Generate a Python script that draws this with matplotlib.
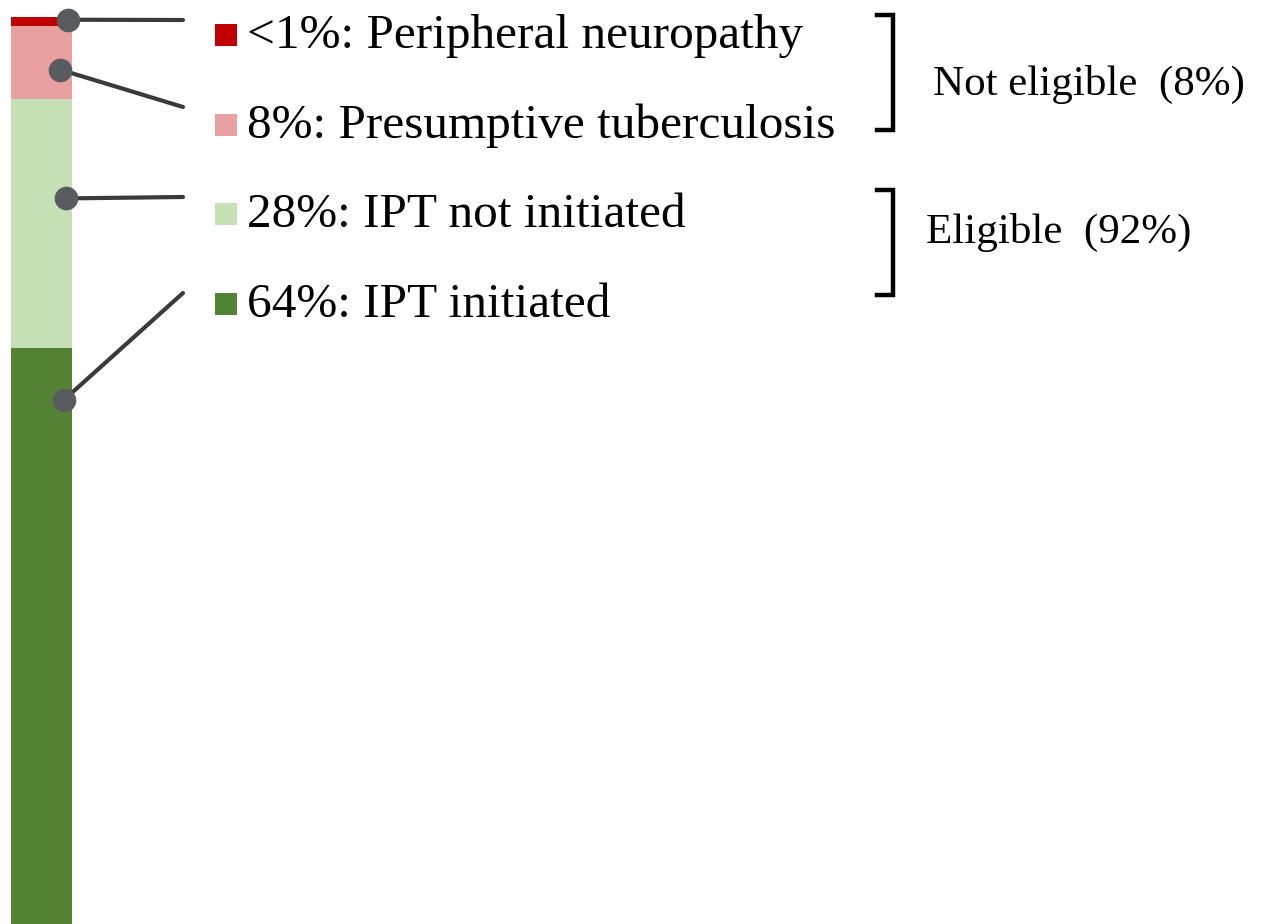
import matplotlib
matplotlib.use("Agg")
import matplotlib.pyplot as plt
from matplotlib.patches import Rectangle

# stacked bar, bottom to top
categories = ["IPT initiated", "IPT not initiated", "Presumptive tuberculosis", "Peripheral neuropathy"]
values = [63.5, 27.5, 8.0, 1.0]
labels = ["64%: IPT initiated", "28%: IPT not initiated", "8%: Presumptive tuberculosis", "<1%: Peripheral neuropathy"]
colors = ["#548235", "#c5e0b4", "#e8a0a0", "#c00000"]

groups = ["Not eligible  (8%)", "Eligible  (92%)"]

W, H = 1272, 924
TOP_PX = 17
ytop = 100 * H / (H - TOP_PX)


def py(px):
    """pixel row (from top) -> data y"""
    return (H - px) / H * ytop


fig = plt.figure(figsize=(W / 100, H / 100), dpi=100)
ax = fig.add_axes([0, 0, 1, 1])
ax.set_xlim(0, W)
ax.set_ylim(0, ytop)
ax.axis("off")

bottom = 0
bottoms = []
for v, c in zip(values, colors):
    ax.bar(41.5, v, width=61, bottom=bottom, color=c, edgecolor="none")
    bottoms.append(bottom)
    bottom += v

# leader dots + lines, legend rows
dot_x = [64, 66, 60, 68]
dot_frac = [0.91, 0.6, 0.4, 0.7]
base_px = [317, 227, 138, 48]
end_px = [293, 197, 107, 20]
sq = 22
for i in range(len(values)):
    yd = bottoms[i] + values[i] * dot_frac[i]
    ax.plot([dot_x[i], 183], [yd, py(end_px[i])], color="#3a3a3a", lw=3, solid_capstyle="round", zorder=3)
    ax.plot(dot_x[i], yd, "o", ms=16, color="#595c5f", zorder=4)
    c = base_px[i] - 13
    ax.add_patch(Rectangle((215, py(c + sq / 2)), sq, py(c - sq / 2) - py(c + sq / 2),
                           color=colors[i], lw=0))
    ax.text(247, py(base_px[i]), labels[i], va="baseline", ha="left",
            family="Liberation Serif", fontsize=35.5, color="black")

# brackets
for (t, b), txt, tx, bl in zip([(15, 130), (190, 295)], groups, [933, 926], [95, 243]):
    ax.plot([877, 893, 893, 877], [py(t), py(t), py(b), py(b)], color="black", lw=3.2,
            solid_joinstyle="miter")
    ax.text(tx, py(bl), txt, va="baseline", ha="left",
            family="Liberation Serif", fontsize=31, color="black")

fig.savefig("out.png", dpi=100)
